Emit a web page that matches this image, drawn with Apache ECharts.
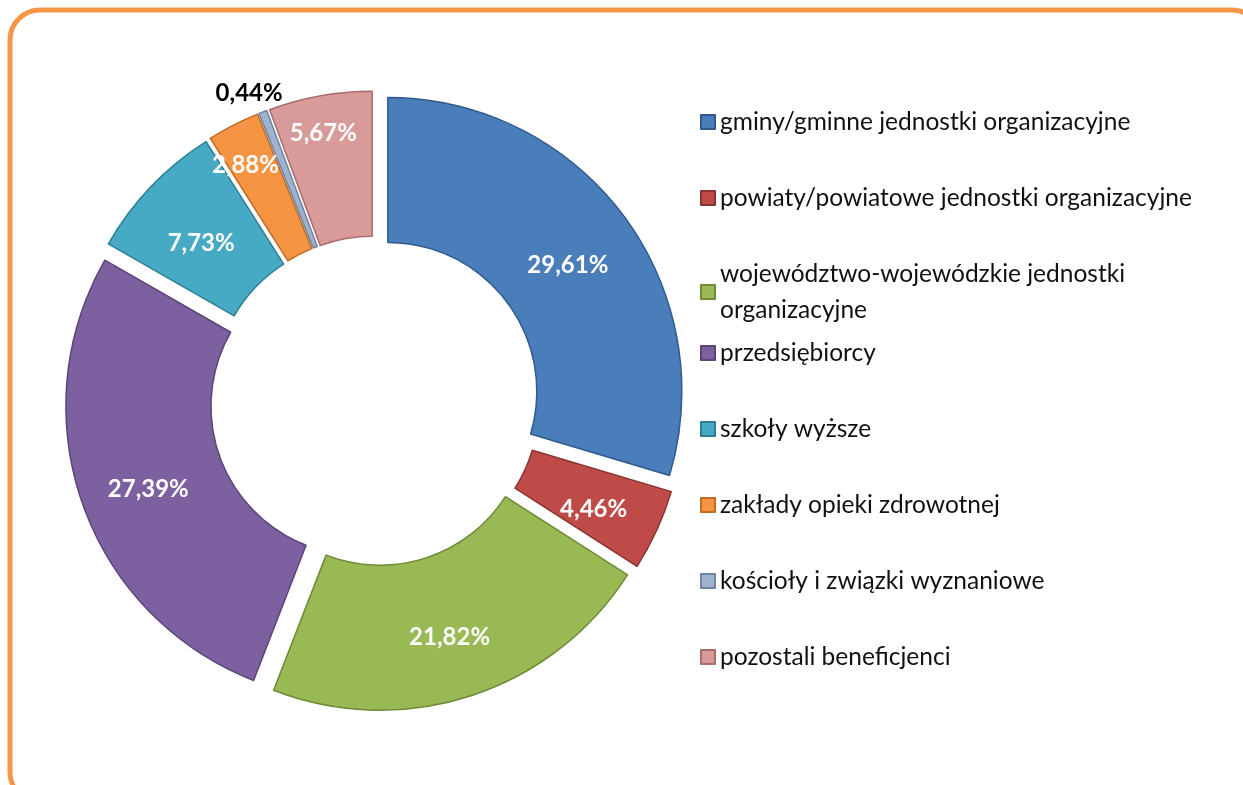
<!DOCTYPE html>
<html>
<head>
<meta charset="utf-8">
<script src="https://cdn.jsdelivr.net/npm/echarts@6/dist/echarts.min.js"></script>
<style>
  html, body { margin: 0; padding: 0; background: #fff; }
  #chart { width: 1243px; height: 785px; }
</style>
</head>
<body>
<div id="chart"></div>
<script>
// kategorie beneficjentów
const categories = [
  'gminy/gminne jednostki organizacyjne',
  'powiaty/powiatowe jednostki organizacyjne',
  'województwo-wojewódzkie jednostki organizacyjne',
  'przedsiębiorcy',
  'szkoły wyższe',
  'zakłady opieki zdrowotnej',
  'kościoły i związki wyznaniowe',
  'pozostali beneficjenci'
]
// udział w %
const shares = [29.61, 4.46, 21.82, 27.39, 7.73, 2.88, 0.44, 5.67]

const palette = ['#4A7EBB', '#BE4B48', '#98B954', '#7D60A0', '#46AAC5', '#F59443', '#A0B3CE', '#D99A9A']
const borders = ['#2F5A8C', '#8C3331', '#6F8A36', '#5A4478', '#2E7F94', '#C06A22', '#6F84A3', '#A86C6C']

const fmtPct = v => v.toFixed(2).replace('.', ',') + '%'

let chart = echarts.init(document.getElementById('chart'))

let seriesData = categories.map((name, i) => {
  let item = {
    name: name,
    value: shares[i],
    selected: true,
    itemStyle: { color: palette[i], borderColor: borders[i], borderWidth: 1.5 }
  }
  // wąskie wycinki - etykiety przesunięte jak w oryginale
  if (i === 5) {
    item.label = { position: 'outside' }
    item.labelLine = { show: false, length: -45, length2: -30 }
  }
  if (i === 6) {
    item.label = { position: 'outside', color: '#000' }
    item.labelLine = { show: false, length: 20, length2: -32 }
  }
  if (i === 7) {
    item.label = { position: 'outside' }
    item.labelLine = { show: false, length: -38, length2: -35 }
  }
  return item
})

const legendText = { fontFamily: 'Lato', fontSize: 24.5, color: '#111', lineHeight: 36 }

chart.setOption({
  animation: false,
  color: palette,
  graphic: [{
    type: 'rect',
    shape: { x: 10, y: 10, width: 1252, height: 792, r: 30 },
    style: { fill: 'none', stroke: '#F79646', lineWidth: 5 },
    z: 100
  }],
  legend: [
    {
      orient: 'vertical',
      left: 695,
      top: 99,
      itemGap: 40,
      itemWidth: 14,
      itemHeight: 14,
      icon: 'rect',
      selectedMode: false,
      data: categories.slice(0, 3),
      textStyle: legendText,
      formatter: name => name === categories[2]
        ? 'województwo-wojewódzkie jednostki\norganizacyjne'
        : name
    },
    {
      orient: 'vertical',
      left: 695,
      top: 330,
      itemGap: 40,
      itemWidth: 14,
      itemHeight: 14,
      icon: 'rect',
      selectedMode: false,
      data: categories.slice(3),
      textStyle: legendText
    }
  ],
  series: [{
    type: 'pie',
    center: [375, 401],
    radius: [149, 294],
    startAngle: 90,
    clockwise: true,
    selectedMode: 'multiple',
    selectedOffset: 16,
    avoidLabelOverlap: false,
    emphasis: { disabled: true },
    label: {
      show: true,
      position: 'inside',
      fontFamily: 'Lato',
      fontWeight: 'bold',
      fontSize: 24,
      color: '#fff',
      formatter: p => fmtPct(p.value)
    },
    // etykiety wewnętrzne nieco niżej, jak w Excelu
    labelLayout: p => (p.dataIndex < 5 ? { dy: 8 } : {}),
    data: seriesData
  }]
})
</script>
</body>
</html>
